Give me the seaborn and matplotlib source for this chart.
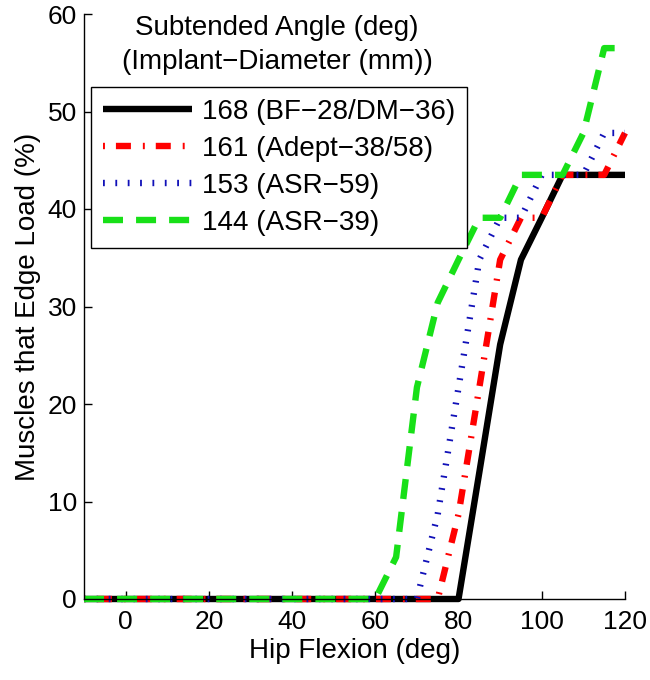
import matplotlib
matplotlib.use("Agg")
import matplotlib.pyplot as plt
import seaborn as sns
import pandas as pd

# ---- data ----
hip_flexion = [-10, -5, 0, 5, 10, 15, 20, 25, 30, 35, 40, 45, 50, 55, 60, 65,
               70, 75, 80, 85, 90, 95, 100, 105, 110, 115, 120]
angle_168 = [0, 0, 0, 0, 0, 0, 0, 0, 0, 0, 0, 0, 0, 0, 0, 0,
             0, 0, 0, 13.0, 26.1, 34.8, 39.1, 43.5, 43.5, 43.5, 43.5]
angle_161 = [0, 0, 0, 0, 0, 0, 0, 0, 0, 0, 0, 0, 0, 0, 0, 0,
             0, 0, 8.7, 21.7, 34.8, 39.1, 39.1, 43.5, 43.5, 43.5, 47.8]
angle_153 = [0, 0, 0, 0, 0, 0, 0, 0, 0, 0, 0, 0, 0, 0, 0, 0,
             0, 8.7, 21.7, 34.8, 39.1, 39.1, 43.5, 43.5, 43.5, 47.8, 47.8]
angle_144 = [0, 0, 0, 0, 0, 0, 0, 0, 0, 0, 0, 0, 0, 0, 0, 4.3,
             21.7, 30.4, 34.8, 39.1, 39.1, 43.5, 43.5, 43.5, 47.8, 56.5, 56.5]
series_labels = ["168 (BF\u221228/DM\u221236)", "161 (Adept\u221238/58)",
                 "153 (ASR\u221259)", "144 (ASR\u221239)"]
x_ticks = [0, 20, 40, 60, 80, 100, 120]
y_ticks = [0, 10, 20, 30, 40, 50, 60]

rows = []
for lab, vals in zip(series_labels, [angle_168, angle_161, angle_153, angle_144]):
    for xv, yv in zip(hip_flexion, vals):
        rows.append({"Hip Flexion": xv, "Edge": yv, "Angle": lab})
df = pd.DataFrame(rows)

sns.set_style("white")
plt.rcParams["font.family"] = ["Liberation Sans", "DejaVu Sans"]
plt.rcParams["text.color"] = "black"
plt.rcParams["axes.labelcolor"] = "black"
plt.rcParams["xtick.color"] = "black"
plt.rcParams["ytick.color"] = "black"
plt.rcParams["lines.scale_dashes"] = False
plt.rcParams["lines.dash_capstyle"] = "butt"
plt.rcParams["lines.solid_capstyle"] = "butt"

palette = dict(zip(series_labels, ["#000000", "#FF0000", "#1010B8", "#18E018"]))
dashes = dict(zip(series_labels, ["", (1.4, 7.9, 10.8, 8.6), (1.3, 7.6), (14.4, 9.4)]))

fig = plt.figure(figsize=(6.5, 6.8), dpi=100)
ax = fig.add_axes([84 / 650, 1 - 599 / 680, (625 - 84) / 650, (599 - 14) / 680])

sns.lineplot(data=df, x="Hip Flexion", y="Edge", hue="Angle", style="Angle",
             palette=palette, dashes=dashes, hue_order=series_labels,
             style_order=series_labels, linewidth=4.6, sort=False,
             legend=False, ax=ax)
for ln in ax.get_lines():
    ln.set_clip_on(False)

ax.set_xlim(-10, 120)
ax.set_ylim(0, 60)
ax.set_xticks(x_ticks)
ax.set_yticks(y_ticks)
ax.set_xticklabels([str(v) for v in x_ticks])
ax.set_yticklabels([str(v) for v in y_ticks])
ax.tick_params(axis="both", direction="in", length=6, width=1.0,
               labelsize=19, color="black", labelcolor="black",
               bottom=True, left=True)
ax.tick_params(axis="x", pad=8)
ax.tick_params(axis="y", pad=5)
for s in ["top", "right"]:
    ax.spines[s].set_visible(False)
for s in ["left", "bottom"]:
    ax.spines[s].set_color("black")
    ax.spines[s].set_linewidth(1.0)

ax.set_xlabel("Hip Flexion (deg)", fontsize=20, labelpad=3, color="black")
ax.set_ylabel("Muscles that Edge Load (%)", fontsize=20, labelpad=5, color="black")

handles = ax.get_lines()[:4]
leg = ax.legend(handles, series_labels, loc="upper left",
                bbox_to_anchor=(0.013, 0.875), borderaxespad=0,
                fontsize=20, handlelength=3.2, handletextpad=0.38,
                borderpad=0.42, labelspacing=0.40, frameon=True,
                fancybox=False, framealpha=1, edgecolor="black")
leg.get_frame().set_linewidth(1.0)
for t in leg.get_texts():
    t.set_color("black")

fig.text(277 / 650, 1 - 28 / 680, "Subtended Angle (deg)", ha="center",
         va="center", fontsize=20, color="black")
fig.text(277 / 650, 1 - 62 / 680, "(Implant\u2212Diameter (mm))", ha="center",
         va="center", fontsize=20, color="black")

fig.savefig("out.png", dpi=100, facecolor="white")
